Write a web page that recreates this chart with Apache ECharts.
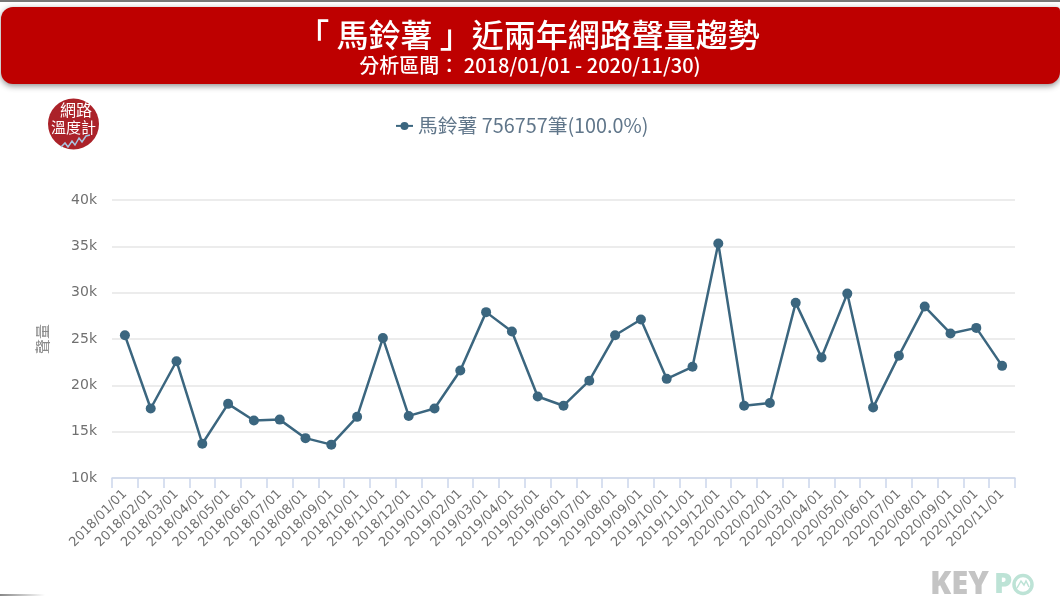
<!DOCTYPE html>
<html><head><meta charset="utf-8">
<style>html,body{margin:0;padding:0;background:#fff}#c{width:1060px;height:596px}</style>
<script src="https://cdn.jsdelivr.net/npm/echarts@6/dist/echarts.min.js"></script>
</head><body><div id="c"></div>
<script>
const titleText = '「 馬鈴薯 」近兩年網路聲量趨勢';
const subtitleText = '分析區間： 2018/01/01 - 2020/11/30)';
const seriesName = '馬鈴薯 756757筆(100.0%)';
const yName = '聲量';
const categories = ['2018/01/01','2018/02/01','2018/03/01','2018/04/01','2018/05/01','2018/06/01','2018/07/01','2018/08/01','2018/09/01','2018/10/01','2018/11/01','2018/12/01','2019/01/01','2019/02/01','2019/03/01','2019/04/01','2019/05/01','2019/06/01','2019/07/01','2019/08/01','2019/09/01','2019/10/01','2019/11/01','2019/12/01','2020/01/01','2020/02/01','2020/03/01','2020/04/01','2020/05/01','2020/06/01','2020/07/01','2020/08/01','2020/09/01','2020/10/01','2020/11/01'];
const values = [25400,17500,22600,13700,18000,16200,16300,14300,13600,16600,25100,16700,17500,21600,27900,25800,18800,17800,20500,25400,27100,20700,22000,35300,17800,18100,28900,23000,29900,17600,23200,28500,25600,26200,22100];
const font = '"Noto Sans CJK TC","Noto Sans",sans-serif';
const chart = echarts.init(document.getElementById('c'), null, {renderer:'canvas'});
chart.setOption({
  animation:false,
  backgroundColor:'#fff',
  legend:{top:111,left:390,itemWidth:17,itemHeight:10,itemGap:6,
    data:[{name:seriesName}],
    textStyle:{fontFamily:font,fontSize:19.8,color:'#60768a'}},
  grid:{left:112,right:45,top:200,bottom:118,containLabel:false},
  xAxis:{type:'category',data:categories,boundaryGap:true,
    axisLine:{lineStyle:{color:'#ccd6eb',width:1.5}},
    axisTick:{show:true,length:10,alignWithLabel:false,lineStyle:{color:'#ccd6eb',width:1.5}},
    axisLabel:{rotate:45,interval:0,fontFamily:'"DejaVu Sans",sans-serif',fontSize:13,color:'#707070',margin:14}},
  yAxis:{type:'value',min:10000,max:40000,interval:5000,
    name:yName,nameLocation:'middle',nameGap:62,nameRotate:90,
    nameTextStyle:{fontFamily:font,fontSize:15,color:'#8a8a8a'},
    axisLine:{show:false},axisTick:{show:false},
    splitLine:{lineStyle:{color:'#e6e6e6',width:1.5}},
    axisLabel:{formatter:v=>(v/1000)+'k',fontFamily:'"DejaVu Sans",sans-serif',fontSize:14,color:'#707070',margin:15}},
  series:[{name:seriesName,type:'line',data:values,symbol:'circle',symbolSize:10,
    lineStyle:{color:'#3b667f',width:2.5},itemStyle:{color:'#3b667f'}}],
  graphic:[
    {type:'rect',shape:{x:0,y:0,width:1060,height:2},style:{fill:'#777'},silent:true},
    {type:'rect',shape:{x:1,y:7,width:1059,height:77,r:[12,4,12,12]},
      style:{fill:'#be0000',shadowBlur:6,shadowColor:'rgba(0,0,0,0.45)',shadowOffsetY:2},silent:true},
    {type:'text',style:{x:528.5,y:35,text:titleText,align:'center',verticalAlign:'middle',
      font:'500 32px '+font,fill:'#fff'},silent:true},
    {type:'text',style:{x:530,y:65,text:subtitleText,align:'center',verticalAlign:'middle',
      font:'500 20px '+font,fill:'#fff'},silent:true},
    {type:'circle',shape:{cx:73.5,cy:124,r:25.5},style:{fill:'#ab2229'},silent:true},
    {type:'text',style:{x:76,y:110,text:'網路',align:'center',verticalAlign:'middle',font:'16px '+font,fill:'#fff'},silent:true},
    {type:'text',style:{x:73.5,y:127,text:'溫度計',align:'center',verticalAlign:'middle',font:'15px '+font,fill:'#fff'},silent:true},
    {type:'polyline',shape:{points:[[61,147],[65,143],[68,147],[72,141],[75,145],[79,138],[82,142],[86,136],[90,135]]},
      style:{stroke:'#a9c4e0',lineWidth:1.5,fill:'none'},silent:true},
    {type:'text',style:{x:930,y:585,text:'KEY',align:'left',verticalAlign:'middle',font:'800 31px "Open Sans",sans-serif',fill:'#c4c4c4'},silent:true},
    {type:'text',style:{x:994,y:585,text:'P',align:'left',verticalAlign:'middle',font:'800 29px "Open Sans",sans-serif',fill:'#bde3d6'},silent:true},
    {type:'circle',shape:{cx:1023,cy:584.5,r:9},style:{fill:'none',stroke:'#bde3d6',lineWidth:3.5},silent:true},
    {type:'polyline',shape:{points:[[1017,588],[1021,581],[1024,585],[1026,581],[1029,587]]},style:{stroke:'#bde3d6',lineWidth:1.5,fill:'none'},silent:true},
    {type:'rect',shape:{x:0,y:594,width:45,height:2},style:{fill:{type:'linear',x:0,y:0,x2:1,y2:0,colorStops:[{offset:0,color:'#888'},{offset:1,color:'#fff'}]}},silent:true}
  ]
});
</script></body></html>
